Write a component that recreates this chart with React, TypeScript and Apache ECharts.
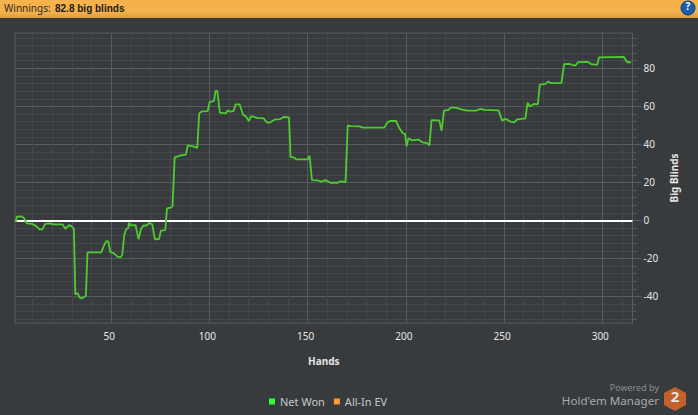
import React, { useEffect, useRef } from "react";
import * as echarts from "echarts";

const hands = [1.4,1.9,4.5,5.7,7,9.6,11.8,13.5,14.9,16.4,19,20.1,25.2,26.6,28.6,30,31,31.7,32.9,33.9,35,37.1,37.9,44.9,46.4,47.5,48.5,49.5,51.2,53.2,54.6,55.6,56.6,57.6,58.7,59,59.7,62.4,63.9,65.1,66.5,67.8,69.4,70.9,72.2,74.3,75.3,77.5,78.4,80.4,81.2,82.3,85.5,88,89,91.1,93.8,94.8,96.2,99.1,100.1,102.3,103.1,104,105.3,108.2,109.4,110.6,112.3,113.3,115.4,117.1,118.7,120,121.3,124.2,127.6,129.3,131,133.5,136.1,137.8,140.5,141.3,142.9,144.2,150,151,152.2,155,156.8,159,161.5,165.3,166.6,169.3,170.4,171.7,176.5,178,189,190.7,192.1,195,196.3,198.2,199.6,200.4,201.3,203.1,206.5,208.6,210.8,212,213.1,217,218.2,219.4,221.8,222.8,225.2,227.8,231.2,236,238,240,247.2,249,250.7,253.3,255,256.7,260.9,262,263.1,265.2,267.2,268.2,271.1,272.3,274,279.2,280.6,283.5,285.5,286.5,287.6,292.8,294.4,297.4,298.4,311,312.7,314.7];
const netWon = [-0.9,1.9,2.1,1,-1.6,-1.8,-3,-4.7,-4.7,-1.8,-1.6,-2.1,-2.1,-4.4,-2.5,-3.3,-4.7,-39,-38.2,-40.7,-41,-39.8,-16.8,-16.8,-13,-10.9,-11,-16.7,-17.2,-19.1,-19.5,-18.2,-7.7,-4.7,-4,-1.2,-2.6,-2.5,-10,-4.7,-2.6,-2.8,-1.4,-2.1,-10,-9.8,-5.4,-5.1,6.3,6.7,7.5,33.2,34.2,34.6,39.5,39.1,38.2,56.3,57.4,57.5,62.3,62.8,68.2,68.1,56.7,56.3,57.9,57.2,57.5,61,61,55.6,54.6,52.3,54.9,53.9,53.7,51.4,51.6,53.2,53.3,54.4,54.2,33.3,33.2,32.1,32.1,34,21.2,21.1,20.4,21.2,19.8,19.8,20.5,20.2,50,49.6,49.5,48.8,48.8,51.6,52.3,52.3,49.3,46.1,45.4,39,43.2,42.1,42.5,41,40.7,39.5,52.8,52.6,47.2,57.7,58.2,59.3,59.3,58.5,57.8,57.8,58.7,58.1,57.9,52.5,53.4,52,51.5,53.2,53.7,62,59.9,61.3,61.1,71.4,71.8,73,72.2,72.2,82.2,82.3,81.5,81.6,83.2,83.4,82.2,81.8,85.8,86,83.2,83.2];
const allInEv: number[][] = [];

const xMajor = [50,100,150,200,250,300];
const xMinor = [10,20,30,40,60,70,80,90,110,120,130,140,160,170,180,190,210,220,230,240,260,270,280,290,310];
const yMajor = [-40,-20,0,20,40,60,80];
const yMinor = [-52,-48,-44,-36,-32,-28,-24,-16,-12,-8,-4,4,8,12,16,24,28,32,36,44,48,52,56,64,68,72,76,84,88,92,96];
const xMin = 1, xMax = 315.4, yMin = -54, yMax = 98.6;

const BG = "#383b3e";
const MAJOR = "#595c5e";
const MINOR = "#45484b";
const LABEL = "#e6e6e6";
const FONT = "'Noto Sans', sans-serif";

export default function App() {
  const ref = useRef<HTMLDivElement>(null);
  useEffect(() => {
    const chart = echarts.init(ref.current!, null, { renderer: "svg" });
    chart.setOption({
      animation: false,
      backgroundColor: BG,
      grid: { left: 15, right: 65.5, top: 33, bottom: 92, show: true, borderColor: MAJOR, borderWidth: 1, backgroundColor: "transparent" },
      textStyle: { fontFamily: FONT },
      legend: {
        left: 264, top: 391, icon: "rect", itemWidth: 6, itemHeight: 6, itemGap: 9, selectedMode: false,
        textStyle: { color: "#c8c8c8", fontSize: 11, fontFamily: FONT },
        data: [
          { name: "Net Won", itemStyle: { color: "#33ff33" } },
          { name: "All-In EV", itemStyle: { color: "#ff9933" } },
        ],
      },
      xAxis: [
        {
          type: "value", min: xMin, max: xMax, position: "bottom",
          name: "Hands", nameLocation: "middle", nameGap: 33,
          nameTextStyle: { color: LABEL, fontWeight: "bold", fontSize: 10, fontFamily: FONT },
          axisLine: { show: false },
          axisTick: { show: true, length: 7, customValues: xMajor, lineStyle: { color: MAJOR } },
          axisLabel: { customValues: xMajor, color: LABEL, fontSize: 10, fontFamily: FONT, margin: 8, padding: [0,4,0,0] },
          splitLine: { show: true, customValues: xMajor, lineStyle: { color: MAJOR, width: 1 } },
        },
        {
          type: "value", min: xMin, max: xMax, position: "bottom",
          axisLine: { show: false },
          axisTick: { show: true, length: 4, customValues: xMinor, lineStyle: { color: MAJOR } },
          axisLabel: { show: false },
          splitLine: { show: true, customValues: xMinor, lineStyle: { color: MINOR, width: 1 } },
        },
      ],
      yAxis: [
        {
          type: "value", min: yMin, max: yMax, position: "right",
          name: "Big Blinds", nameLocation: "middle", nameGap: 35, nameRotate: 90,
          nameTextStyle: { color: LABEL, fontWeight: "bold", fontSize: 10, fontFamily: FONT },
          axisLine: { show: false },
          axisTick: { show: true, length: 9, customValues: yMajor, lineStyle: { color: MAJOR } },
          axisLabel: { customValues: yMajor, color: LABEL, fontSize: 10, fontFamily: FONT, margin: 11, padding: [0,0,4,0] },
          splitLine: { show: true, customValues: yMajor, lineStyle: { color: MAJOR, width: 1 } },
        },
        {
          type: "value", min: yMin, max: yMax, position: "right",
          axisLine: { show: false },
          axisTick: { show: true, length: 4, customValues: yMinor, lineStyle: { color: MAJOR } },
          axisLabel: { show: false },
          splitLine: { show: true, customValues: yMinor, lineStyle: { color: MINOR, width: 1 } },
        },
      ],
      series: [
        {
          name: "Net Won", type: "line", showSymbol: false, symbol: "none",
          data: hands.map((h, i) => [h, netWon[i]]),
          lineStyle: { color: "#4fcb30", width: 1.8 }, itemStyle: { color: "#33ff33" },
          markLine: { silent: true, symbol: "none", label: { show: false }, lineStyle: { color: "#ffffff", width: 2, type: "solid" }, data: [{ yAxis: 0 }] },
          z: 5,
        },
        { name: "All-In EV", type: "line", showSymbol: false, symbol: "none", data: allInEv, lineStyle: { color: "#ff9933", width: 2 }, itemStyle: { color: "#ff9933" } },
      ],
      graphic: [
        { type: "rect", x: 0, y: 0, z: 10, shape: { width: 698, height: 18 }, style: { fill: new echarts.graphic.LinearGradient(0, 0, 0, 1, [{ offset: 0, color: "#f6b24c" }, { offset: 0.7, color: "#f4b04a" }, { offset: 1, color: "#d89c44" }]) } },
        { type: "text", x: 4, y: 3, z: 11, style: { text: "Winnings:", fill: "#2a2a2a", font: "10px " + FONT } },
        { type: "text", x: 55, y: 3, z: 11, style: { text: "82.8 big blinds", fill: "#1a1a1a", font: "bold 10px 'Liberation Sans', sans-serif" } },
        { type: "circle", z: 11, shape: { cx: 688, cy: 8, r: 7 }, style: { fill: "#1c5fa8", stroke: "#0f3f78", lineWidth: 1 } },
        { type: "text", x: 688, y: 1, z: 12, style: { text: "?", fill: "#ffffff", font: "bold 10px " + FONT, textAlign: "center" } },
        { type: "text", x: 659, y: 383, z: 11, style: { text: "Powered by", fill: "#8a8c8e", font: "9px " + FONT, textAlign: "right" } },
        { type: "text", x: 659, y: 394, z: 11, style: { text: "Hold'em Manager", fill: "#a8aaac", font: "11.6px " + FONT, textAlign: "right" } },
        { type: "polygon", z: 11, shape: { points: [[675,387],[686,393],[686,405],[675,411],[664,405],[664,393]] }, style: { fill: "#c4602c" } },
        { type: "text", x: 675, y: 388, z: 12, style: { text: "2", fill: "#e4e4e4", font: "bold 15px " + FONT, textAlign: "center" } },
      ],
    });
    return () => chart.dispose();
  }, []);
  return <div ref={ref} style={{ position: "absolute", left: 0, top: 0, width: 698, height: 415 }} />;
}
